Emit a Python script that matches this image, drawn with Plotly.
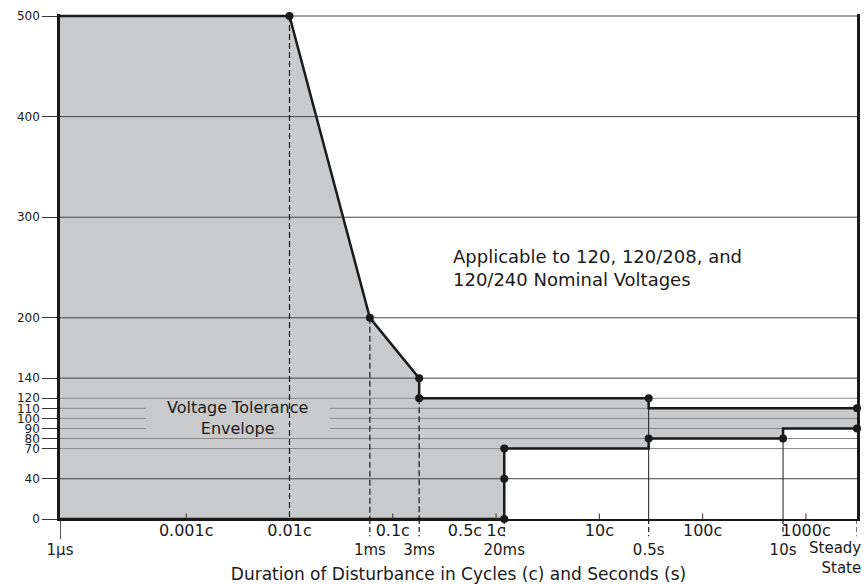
import math
import plotly.graph_objects as go

CYCLE_S = 1 / 60          # one cycle at 60 Hz, in seconds
STEADY_S = 52             # position used for "Steady State" on the duration axis

# Envelope boundary (duration in seconds, voltage in % of nominal)
upper_t = [1e-6, 0.01 * CYCLE_S, 1e-3, 3e-3, 3e-3, 0.5, 0.5, STEADY_S]
upper_v = [500, 500, 200, 140, 120, 120, 110, 110]
lower_t = [STEADY_S, 10, 10, 0.5, 0.5, 0.02, 0.02, 1e-6]
lower_v = [90, 90, 80, 80, 70, 70, 0, 0]

# Marked points on the curve
point_t = [0.01 * CYCLE_S, 1e-3, 3e-3, 3e-3, 0.5, STEADY_S, STEADY_S, 10, 0.5, 0.02, 0.02, 0.02]
point_v = [500, 200, 140, 120, 120, 110, 90, 80, 80, 70, 40, 0]

# Axis ticks
y_ticks = [0, 40, 70, 80, 90, 100, 110, 120, 140, 200, 300, 400, 500]
y_light = [70, 80, 90, 100, 110, 120]
y_gap = [90, 100, 110]
cycle_ticks = [0.001, 0.01, 0.1, 0.5, 1, 10, 100, 1000]
cycle_labels = ["0.001c", "0.01c", "0.1c", "0.5c", "1c", "10c", "100c", "1000c"]
cycle_marks = [0.001, 0.1, 1, 10, 100, 1000]
second_ticks = [1e-6, 1e-3, 3e-3, 0.02, 0.5, 10]
second_labels = ["1µs", "1ms", "3ms", "20ms", "0.5s", "10s"]

# Drop lines
dashed_drop_t = [0.01 * CYCLE_S, 1e-3, 3e-3]
dashed_drop_v = [500, 200, 120]
solid_drop_t = [0.5, 10]
solid_drop_v = [120, 80]
below_dashed_t = [1e-3, 3e-3, 0.02, 0.5, 10, STEADY_S]
below_solid_t = [1e-6]

FONT = "DejaVu Sans"
INK = "#1a1a1a"
FILL = "#c9cacc"

xlo, xhi = math.log10(1e-6), math.log10(STEADY_S)


def paper_to_t(f):
    return 10 ** (xlo + f * (xhi - xlo))


fig = go.Figure()

# shaded envelope
fig.add_trace(go.Scatter(x=upper_t + lower_t, y=upper_v + lower_v, mode="lines",
                         fill="toself", fillcolor=FILL, line=dict(width=0),
                         hoverinfo="skip", showlegend=False))

# gridlines (drawn over the fill)
gap0, gap1 = paper_to_t(0.108), paper_to_t(0.339)
for col, vals in (("#444444", [v for v in y_ticks if v not in y_light and v > 0]),
                  ("#8a8a8a", y_light)):
    gx, gy = [], []
    for v in vals:
        if v in y_gap:
            gx += [1e-6, gap0, None, gap1, STEADY_S, None]
            gy += [v, v, None, v, v, None]
        else:
            gx += [1e-6, STEADY_S, None]
            gy += [v, v, None]
    fig.add_trace(go.Scatter(x=gx, y=gy, mode="lines", line=dict(color=col, width=1),
                             hoverinfo="skip", showlegend=False))

# drop lines
dx, dy = [], []
for t, v in zip(dashed_drop_t, dashed_drop_v):
    dx += [t, t, None]
    dy += [v, 0, None]
fig.add_trace(go.Scatter(x=dx, y=dy, mode="lines",
                         line=dict(color=INK, width=1.2, dash="6px,3px"),
                         hoverinfo="skip", showlegend=False))
sx, sy = [], []
for t, v in zip(solid_drop_t, solid_drop_v):
    sx += [t, t, None]
    sy += [v, 0, None]
fig.add_trace(go.Scatter(x=sx, y=sy, mode="lines", line=dict(color=INK, width=1),
                         hoverinfo="skip", showlegend=False))

# envelope outline
fig.add_trace(go.Scatter(x=upper_t, y=upper_v, mode="lines",
                         line=dict(color=INK, width=2.5), hoverinfo="skip", showlegend=False))
fig.add_trace(go.Scatter(x=lower_t, y=lower_v, mode="lines",
                         line=dict(color=INK, width=2.5), hoverinfo="skip", showlegend=False))

# markers
fig.add_trace(go.Scatter(x=point_t, y=point_v, mode="markers",
                         marker=dict(color=INK, size=8), cliponaxis=False,
                         hoverinfo="skip", showlegend=False))

# invisible trace to activate the seconds axis
fig.add_trace(go.Scatter(x=second_ticks, y=[0] * len(second_ticks), xaxis="x2",
                         mode="none", hoverinfo="skip", showlegend=False))

shapes = []
for t in below_dashed_t:
    shapes.append(dict(type="line", xref="x", yref="paper", x0=t, x1=t, y0=0, y1=-0.034,
                       line=dict(color=INK, width=1.2, dash="5px,3px")))
for t in below_solid_t:
    shapes.append(dict(type="line", xref="x", yref="paper", x0=t, x1=t, y0=0, y1=-0.04,
                       line=dict(color=INK, width=1.5)))
for c in cycle_marks:
    t = c * CYCLE_S
    shapes.append(dict(type="line", xref="x", yref="paper", x0=t, x1=t, y0=0, y1=0.011,
                       line=dict(color="#333333", width=1)))

annotations = [
    dict(text="Voltage Tolerance<br>Envelope", xref="paper", yref="y", x=0.2233, y=100,
         xanchor="center", yanchor="middle",
         showarrow=False, font=dict(family=FONT, size=16, color=INK), align="center"),
    dict(text="Applicable to 120, 120/208, and<br>120/240 Nominal Voltages", xref="paper",
         yref="y", x=0.49, y=250, xanchor="left", yanchor="middle", showarrow=False,
         align="left", font=dict(family=FONT, size=18, color=INK)),
    dict(text="Steady<br>State", xref="paper", yref="paper", x=1.008, y=-0.036,
         xanchor="right", yanchor="top", showarrow=False, align="right",
         font=dict(family=FONT, size=15, color=INK)),
]

fig.update_layout(
    width=866, height=584,
    margin=dict(l=60, r=9, t=14, b=65),
    paper_bgcolor="white", plot_bgcolor="white",
    font=dict(family=FONT, color=INK),
    shapes=shapes, annotations=annotations,
    xaxis=dict(type="log", range=[xlo, xhi], tickvals=[c * CYCLE_S for c in cycle_ticks],
               ticktext=cycle_labels, ticks="", showgrid=False, zeroline=False,
               showline=True, linewidth=2, linecolor=INK, tickfont=dict(size=16),
               ticklabelstandoff=-4, automargin=False),
    xaxis2=dict(type="log", range=[xlo, xhi], overlaying="x", anchor="y", side="bottom",
                tickvals=second_ticks, ticktext=second_labels, ticks="", showgrid=False,
                zeroline=False, showline=False, tickfont=dict(size=15),
                ticklabelstandoff=20, automargin=False,
                title=dict(text="Duration of Disturbance in Cycles (c) and Seconds (s)",
                           font=dict(size=17), standoff=10)),
    yaxis=dict(range=[0, 502], tickvals=y_ticks, ticks="outside", ticklen=15,
               tickcolor="#333333", tickwidth=1, showgrid=False, zeroline=False,
               showline=True, linewidth=2.5, linecolor=INK, mirror=True,
               tickfont=dict(size=12), automargin=False),
)

fig.write_html("out.html", config={"displayModeBar": False},
               post_script="document.body.style.margin='0px';"
                           "document.body.style.overflow='hidden';")
